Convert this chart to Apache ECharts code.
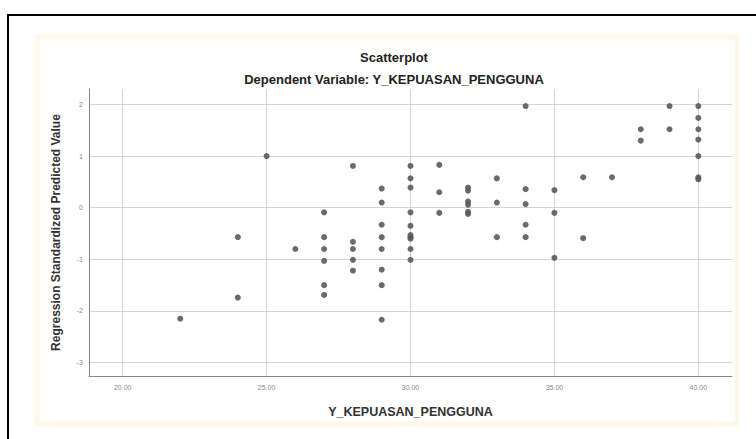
<!DOCTYPE html>
<html>
<head>
<meta charset="utf-8">
<script src="https://cdn.jsdelivr.net/npm/echarts@6/dist/echarts.min.js"></script>
<style>
html,body{margin:0;padding:0;background:#fff;}
#c{width:756px;height:439px;}
</style>
</head>
<body>
<div id="c"></div>
<script>
// Data (x = Y_KEPUASAN_PENGGUNA, y = Regression Standardized Predicted Value)
const xValues = [
  22, 24, 24, 25, 26,
  27, 27, 27, 27, 27, 27,
  28, 28, 28, 28, 28,
  29, 29, 29, 29, 29, 29, 29, 29,
  30, 30, 30, 30, 30, 30, 30, 30, 30, 30,
  31, 31, 31,
  32, 32, 32, 32, 32, 32,
  33, 33, 33,
  34, 34, 34, 34, 34,
  35, 35, 35,
  36, 36,
  37,
  38, 38,
  39, 39,
  40, 40, 40, 40, 40, 40, 40
];
const yValues = [
  -2.15, -0.57, -1.74, 1.00, -0.80,
  -0.09, -0.57, -0.80, -1.03, -1.50, -1.69,
  0.81, -0.66, -0.80, -1.01, -1.22,
  0.37, 0.10, -0.33, -0.57, -0.80, -1.20, -1.50, -2.17,
  0.81, 0.57, 0.39, -0.09, -0.35, -0.53, -0.57, -0.60, -0.80, -1.01,
  0.83, 0.30, -0.10,
  0.39, 0.33, 0.12, 0.06, -0.08, -0.12,
  0.57, 0.10, -0.57,
  1.97, 0.36, 0.07, -0.33, -0.57,
  0.34, -0.10, -0.97,
  0.59, -0.59,
  0.59,
  1.52, 1.30,
  1.97, 1.52,
  1.97, 1.74, 1.52, 1.32, 1.00, 0.59, 0.55
];
const xTicks = [20, 25, 30, 35, 40];
const yTicks = [-3, -2, -1, 0, 1, 2];
const xRange = [18.83, 41.17];
const yRange = [-3.26, 2.3];

const points = xValues.map((x, i) => [x, yValues[i]]);

const chart = echarts.init(document.getElementById('c'), null, {renderer: 'svg'});
const gridColor = '#d4d4d4';
chart.setOption({
  animation: false,
  backgroundColor: '#ffffff',
  title: [
    {text: 'Scatterplot', left: 389, top: 46, textAlign: 'center',
     textStyle: {fontFamily: 'Liberation Sans', fontSize: 13, fontWeight: 'bold', color: '#222'}},
    {text: 'Dependent Variable: Y_KEPUASAN_PENGGUNA', left: 389, top: 68, textAlign: 'center',
     textStyle: {fontFamily: 'Liberation Sans', fontSize: 13, fontWeight: 'bold', color: '#222'}}
  ],
  graphic: [
    {type: 'rect', shape: {x: 8, y: 15, width: 760, height: 440}, z: -10,
     style: {fill: '#ffffff', stroke: '#000000', lineWidth: 2}},
    {type: 'rect', shape: {x: 37, y: 37, width: 700, height: 387}, z: -9,
     style: {fill: '#ffffff', stroke: '#fdf9e8', lineWidth: 5}}
  ],
  grid: {left: 89, top: 89, right: 24, bottom: 63},
  xAxis: {
    type: 'value', min: xRange[0], max: xRange[1],
    name: 'Y_KEPUASAN_PENGGUNA', nameLocation: 'middle', nameGap: 29,
    nameTextStyle: {fontFamily: 'Liberation Sans', fontSize: 12.5, fontWeight: 'bold', color: '#333'},
    axisLine: {show: true, onZero: false, lineStyle: {color: '#888', width: 1}},
    axisTick: {show: false, customValues: xTicks},
    axisLabel: {customValues: xTicks, formatter: v => v.toFixed(2), fontSize: 7, color: '#888', margin: 8,
                fontFamily: 'Liberation Sans'},
    splitLine: {show: true, lineStyle: {color: gridColor, width: 1}}
  },
  yAxis: {
    type: 'value', min: yRange[0], max: yRange[1],
    name: 'Regression Standardized Predicted Value', nameLocation: 'middle', nameGap: 27,
    nameTextStyle: {fontFamily: 'Liberation Sans', fontSize: 12, fontWeight: 'bold', color: '#333'},
    axisLine: {show: true, onZero: false, lineStyle: {color: '#888', width: 1}},
    axisTick: {show: false, customValues: yTicks},
    axisLabel: {customValues: yTicks, fontSize: 7, color: '#888', margin: 6, fontFamily: 'Liberation Sans'},
    splitLine: {show: true, lineStyle: {color: gridColor, width: 1}}
  },
  series: [{
    type: 'scatter',
    data: points,
    symbol: 'circle',
    symbolSize: 6,
    itemStyle: {color: '#5a5a5a', opacity: 0.9}
  }]
});
</script>
</body>
</html>
